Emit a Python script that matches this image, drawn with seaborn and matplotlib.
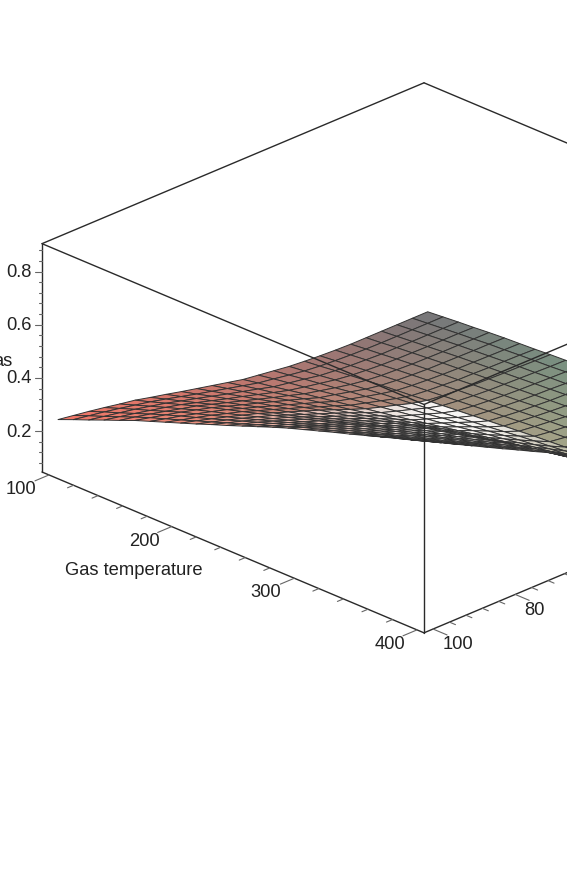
import matplotlib
matplotlib.use("Agg")
import matplotlib.pyplot as plt
import seaborn as sns
import numpy as np
from mpl_toolkits.mplot3d import proj3d

sns.set_theme(style="white")
plt.rcParams['font.family'] = ['Liberation Sans', 'DejaVu Sans']

# grid of the surface
gas_temperature = [100, 112.5, 125, 137.5, 150, 162.5, 175, 187.5, 200, 212.5, 225, 237.5, 250,
                   262.5, 275, 287.5, 300, 312.5, 325, 337.5, 350, 362.5, 375, 387.5, 400]
other_axis = [100, 96.25, 92.5, 88.75, 85, 81.25, 77.5, 73.75, 70, 66.25, 62.5, 58.75, 55,
              51.25, 47.5, 43.75, 40, 36.25, 32.5, 28.75, 25, 21.25, 17.5, 13.75, 10]

# height, in thousandths, one row per other_axis value
height = [
    [240, 264, 287, 311, 334, 358, 379, 400, 421, 442, 464, 485, 507, 529, 551, 572, 591, 610, 629, 647, 666, 685, 704, 722, 741],
    [231, 254, 276, 299, 322, 344, 364, 384, 405, 425, 446, 466, 487, 508, 529, 550, 568, 586, 604, 622, 639, 657, 675, 693, 711],
    [222, 244, 265, 287, 309, 330, 350, 369, 388, 408, 428, 448, 468, 488, 507, 527, 545, 562, 579, 596, 613, 630, 647, 664, 681],
    [212, 233, 254, 274, 295, 316, 334, 353, 371, 390, 409, 428, 447, 466, 485, 504, 521, 537, 553, 569, 586, 602, 618, 635, 651],
    [201, 221, 241, 261, 280, 300, 318, 335, 353, 371, 389, 407, 425, 443, 462, 480, 496, 512, 527, 543, 558, 574, 590, 606, 621],
    [191, 209, 228, 247, 266, 284, 301, 318, 335, 352, 369, 386, 404, 421, 439, 456, 471, 486, 501, 516, 531, 546, 561, 576, 591],
    [177, 195, 212, 230, 248, 265, 281, 297, 313, 329, 346, 363, 379, 396, 413, 430, 444, 459, 473, 488, 503, 517, 532, 547, 562],
    [164, 180, 197, 213, 230, 246, 262, 277, 292, 307, 323, 339, 355, 371, 387, 403, 418, 432, 446, 460, 474, 489, 503, 518, 532],
    [150, 165, 181, 196, 212, 228, 242, 256, 271, 285, 300, 315, 331, 346, 361, 377, 391, 404, 418, 432, 446, 460, 474, 488, 503],
    [137, 151, 165, 180, 194, 209, 222, 236, 250, 263, 277, 292, 306, 321, 336, 351, 364, 377, 391, 404, 418, 431, 445, 459, 473],
    [124, 137, 150, 163, 176, 190, 202, 214, 227, 240, 253, 266, 279, 293, 307, 320, 333, 345, 357, 370, 383, 395, 408, 421, 434],
    [111, 123, 135, 146, 159, 171, 182, 193, 204, 216, 228, 240, 252, 264, 277, 289, 300, 311, 323, 334, 346, 357, 369, 381, 393],
    [98, 109, 119, 130, 141, 151, 161, 171, 182, 192, 202, 213, 224, 235, 246, 258, 268, 278, 288, 298, 309, 319, 330, 341, 351],
    [90, 100, 109, 118, 128, 138, 146, 155, 164, 173, 182, 192, 201, 211, 221, 230, 239, 248, 256, 265, 274, 283, 292, 301, 310],
    [82, 90, 99, 107, 115, 124, 131, 139, 147, 155, 162, 171, 179, 187, 195, 203, 210, 217, 225, 232, 239, 246, 254, 261, 268],
    [74, 81, 88, 96, 103, 110, 117, 123, 129, 136, 142, 149, 156, 162, 169, 176, 182, 187, 193, 199, 204, 210, 216, 221, 227],
    [69, 75, 82, 88, 94, 100, 105, 110, 116, 121, 126, 131, 136, 141, 146, 151, 155, 159, 163, 167, 171, 175, 178, 182, 186],
    [65, 71, 77, 83, 88, 94, 99, 104, 109, 114, 119, 124, 129, 134, 139, 143, 147, 151, 155, 159, 162, 166, 170, 173, 177],
    [62, 68, 74, 79, 85, 90, 95, 100, 105, 109, 114, 119, 123, 128, 133, 137, 141, 144, 148, 152, 155, 159, 162, 165, 169],
    [60, 66, 71, 77, 82, 87, 92, 96, 101, 105, 110, 114, 119, 123, 127, 131, 135, 138, 142, 145, 148, 151, 154, 157, 160],
    [60, 65, 71, 76, 81, 86, 90, 95, 99, 103, 107, 111, 115, 119, 123, 127, 130, 133, 136, 139, 142, 144, 147, 149, 152],
    [60, 65, 70, 75, 80, 85, 89, 93, 97, 101, 105, 109, 113, 116, 120, 123, 126, 128, 131, 133, 135, 138, 140, 142, 144],
    [60, 65, 70, 75, 80, 84, 88, 92, 96, 99, 103, 106, 110, 113, 116, 119, 121, 123, 125, 127, 129, 131, 132, 134, 135],
    [60, 65, 70, 75, 79, 84, 87, 91, 94, 97, 101, 104, 107, 110, 112, 115, 117, 118, 120, 121, 123, 124, 125, 126, 127],
    [60, 65, 70, 74, 79, 83, 86, 89, 93, 96, 98, 101, 104, 106, 109, 111, 112, 114, 115, 116, 117, 117, 118, 118, 119],
]
temperature_ticks = [100, 200, 300, 400]
other_ticks = [100, 80]
height_ticks = [0.2, 0.4, 0.6, 0.8]

xlim = (94.3, 405.7)
ylim = (102.2, 9.2)
zmin, zmax = .046, .905

fig = plt.figure(figsize=(5.67, 8.72), dpi=100)
ax = fig.add_axes([0, 0, 1, 1], projection='3d', computed_zorder=False)
ax.set_proj_type('ortho')
ax.set_box_aspect((1, 1, .466))
ax.view_init(elev=24.9, azim=-45)
ax.set_xlim(*xlim)
ax.set_ylim(*ylim)
ax.set_zlim(zmin, zmax)
ax.set_axis_off()

def disp(x, y, z):
    xp, yp, _ = proj3d.proj_transform(x, y, z, ax.get_proj())
    return ax.transData.transform((xp, yp))

# scale the axes so the box lands where it is in the reference
fig.canvas.draw()
a = disp(xlim[0], ylim[0], zmin)
b = disp(xlim[1], ylim[0], zmin)
scale = 382 / (b[0] - a[0])
box = ax.get_position()
W = box.width * 567
rx = (a[0] - box.x0 * 567) / W
ry = (a[1] - box.y0 * 872) / W
W2 = W * scale
ax.set_position([(42 - rx * W2) / 567, (400 - ry * W2) / 872, W2 / 567, W2 / 872])
fig.canvas.draw()

X, Y = np.meshgrid(gas_temperature, other_axis)
Z = np.array(height) / 1000

# colours: blend of four corners plus the pale highlight
corners = np.array(sns.color_palette(['#f07566', '#70767a', '#dcb49b', '#78be8c']))
tx = (X - xlim[0]) / (xlim[1] - xlim[0])
ly = (ylim[0] - Y) / (ylim[0] - ylim[1])
lm = ly ** 1.25
col = ((1 - tx) * (1 - lm))[..., None] * corners[0] + ((1 - tx) * lm)[..., None] * corners[1] \
    + (tx * (1 - lm))[..., None] * corners[2] + (tx * lm)[..., None] * corners[3]
px = 42 + 382 * (tx + ly)
glow = np.interp(px, [190, 280, 340, 400, 430, 480, 540, 600], [.05, .4, .6, .9, 1, .85, .35, 0])
glow = glow * (X >= 200) * (Y > 40)
col = col + (1 - col) * glow[..., None] * .95
fc = np.dstack([np.clip(col, 0, 1), np.ones_like(Z)])

ax.plot_surface(X, Y, Z, facecolors=fc, rstride=1, cstride=1, shade=False,
                edgecolor='#333333', linewidth=.7, zorder=1, antialiased=True)

line = dict(color='#2a2a2a', lw=1, zorder=3)
x0, x1 = xlim
y0, y1 = ylim
for xs, ys, zs in [
    ([x0, x1], [y0, y0], [zmax, zmax]), ([x0, x0], [y0, y1], [zmax, zmax]),
    ([x0, x1], [y1, y1], [zmax, zmax]), ([x1, x1], [y0, y1], [zmax, zmax]),
    ([x0, x0], [y0, y0], [zmin, zmax]), ([x1, x1], [y0, y0], [zmin, zmax]),
    ([x0, x1], [y0, y0], [zmin, zmin]), ([x1, x1], [y0, y1], [zmin, zmin])]:
    ax.plot(xs, ys, zs, **line)

tick = dict(color='#666666', lw=.8, zorder=3)
for val in range(100, 401, 20):
    n = 14 if val % 100 == 0 else 6
    ax.plot([val, val], [y0, y0 + n / 382 * (y0 - y1)], [zmin, zmin], **tick)
for val in range(100, 9, -4):
    n = 14 if val % 20 == 0 else 6
    ax.plot([x1, x1 + n / 382 * (x1 - x0)], [val, val], [zmin, zmin], **tick)
for k in range(2, 23):
    n = 7 if k % 5 == 0 else 3.5
    ax.plot([x0, x0 - n / 764 * (x1 - x0)], [y0, y0 + n / 764 * (y0 - y1)], [k * .04, k * .04], **tick)

fs = 13.2
def label(x, y, z, s, dx, dy, ha='center'):
    xp, yp, _ = proj3d.proj_transform(x, y, z, ax.get_proj())
    ax.annotate(s, (xp, yp), xytext=(dx, -dy), textcoords='offset pixels', fontsize=fs,
                color='#222222', ha=ha, va='center', zorder=4)

for val, dx, dy in zip(temperature_ticks, [-28, -27, -29, -27], [15, 15, 14, 15]):
    label(val, y0, zmin, str(val), dx, dy)
for val, dx, dy in zip(other_ticks, [25, 19], [15, 16]):
    label(x1, val, zmin, str(val), dx, dy)
for val in height_ticks:
    label(x0, y0, val, f'{val:.1f}', -10, 1, ha='right')
fig.text(134 / 567, 1 - 570 / 872, 'Gas temperature', fontsize=fs, color='#222222', ha='center', va='center')
fig.text(12 / 567, 1 - 361 / 872, 'as', fontsize=fs, color='#222222', ha='right', va='center')

fig.savefig('out.png', dpi=100)
